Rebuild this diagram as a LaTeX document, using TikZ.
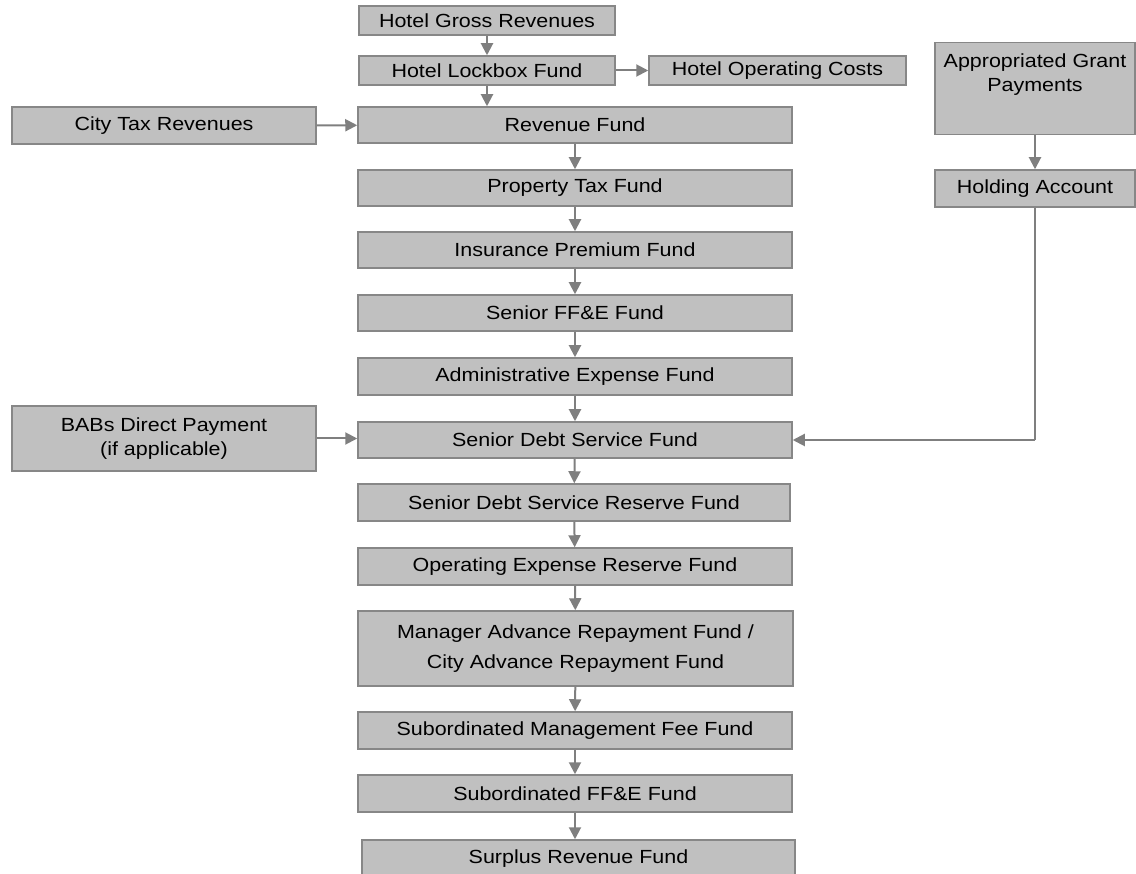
\documentclass[tikz,border=0pt]{standalone}
\usepackage{fontspec}
\setmainfont{Liberation Sans}[FakeStretch=1.13]
\usetikzlibrary{arrows.meta,calc}
\definecolor{boxfill}{HTML}{C0C0C0}
\definecolor{boxline}{HTML}{878787}
\definecolor{arrowc}{HTML}{7F7F7F}
\begin{document}
\begin{tikzpicture}[x=1pt,y=-1pt,
  box/.style={draw=boxline, line width=1.5pt, fill=boxfill, inner sep=0pt,
    font=\fontsize{19}{24}\selectfont, text=black, align=center},
  flow/.style={draw=arrowc, line width=2pt, -{Triangle[length=12pt,width=12pt]}},
  thinline/.style={draw=arrowc, line width=1.3pt}]
\useasboundingbox (0,0) rectangle (1136,874);
\begin{scope}
\clip (0,0) rectangle (1136,874);
% top chain
\node[box, minimum width=256, minimum height=29] (gross) at (487,20.5) {Hotel Gross Revenues};
\node[box, minimum width=256, minimum height=29] (lockbox) at (487,70.5) {Hotel Lockbox Fund};
\node[box, minimum width=257, minimum height=29] (opcost) at (777.5,70.5) {Hotel Operating Costs};
% left inputs
\node[box, minimum width=304, minimum height=37] (city) at (164,125.5) {City Tax Revenues};
\node[box, minimum width=304, minimum height=65] (babs) at (164,438.5) {BABs Direct Payment\\(if applicable)};
% main column
\node[box, minimum width=434, minimum height=36] (revenue) at (575,125) {Revenue Fund};
\node[box, minimum width=434, minimum height=36] (property) at (575,188) {Property Tax Fund};
\node[box, minimum width=434, minimum height=36] (insurance) at (575,250) {Insurance Premium Fund};
\node[box, minimum width=434, minimum height=36] (seniorffe) at (575,313) {Senior FF\&E Fund};
\node[box, minimum width=434, minimum height=37] (admin) at (575,376.5) {Administrative Expense Fund};
\node[box, minimum width=434, minimum height=36] (sds) at (575,440) {Senior Debt Service Fund};
\node[box, minimum width=432, minimum height=37] (sdsr) at (574,502.5) {Senior Debt Service Reserve Fund};
\node[box, minimum width=434, minimum height=37] (oer) at (575,566.5) {Operating Expense Reserve Fund};
\node[box, minimum width=435, minimum height=75] (manager) at (575.5,648.5) {Manager Advance Repayment Fund /\\[6pt]City Advance Repayment Fund};
\node[box, minimum width=434, minimum height=37] (submgmt) at (575,730.5) {Subordinated Management Fee Fund};
\node[box, minimum width=434, minimum height=37] (subffe) at (575,793.5) {Subordinated FF\&E Fund};
\node[box, minimum width=433, minimum height=44, text depth=0pt, text height=14pt] (surplus) at (578.5,862) {\raisebox{6pt}{Surplus Revenue Fund}};
% right side
\node[box, minimum width=200, minimum height=92, anchor=north,
  label={[name=grantlbl, anchor=north, align=center, font=\fontsize{19}{24}\selectfont, yshift=-8pt]north:Appropriated Grant\\Payments}] (grant) at (1035,42) {};
\node[box, minimum width=200, minimum height=37] (holding) at (1035,188.5) {Holding Account};
\coordinate (corner) at (holding.south |- sds.east);
% connectors
\draw[flow] (gross) -- (lockbox);
\draw[flow] (lockbox) -- (revenue.north -| lockbox.south);
\draw[flow] (lockbox) -- (opcost);
\draw[flow] (city) -- (revenue);
\draw[flow] (revenue) -- (property);
\draw[flow] (property) -- (insurance);
\draw[flow] (insurance) -- (seniorffe);
\draw[flow] (seniorffe) -- (admin);
\draw[flow] (admin) -- (sds);
\draw[flow] (babs.east) -- (babs.east -| sds.west);
\draw[flow] (sds) -- (sdsr);
\draw[flow] (sdsr) -- (oer);
\draw[flow] (oer) -- (manager);
\draw[flow] (manager) -- (submgmt);
\draw[flow] (submgmt) -- (subffe);
\draw[flow] (subffe) -- (subffe.south |- surplus.north);
\draw[flow] (grant) -- (holding);
\draw[thinline] (holding) -- (corner);
\draw[flow] (corner) -- (sds.east);
\end{scope}
\end{tikzpicture}
\end{document}
